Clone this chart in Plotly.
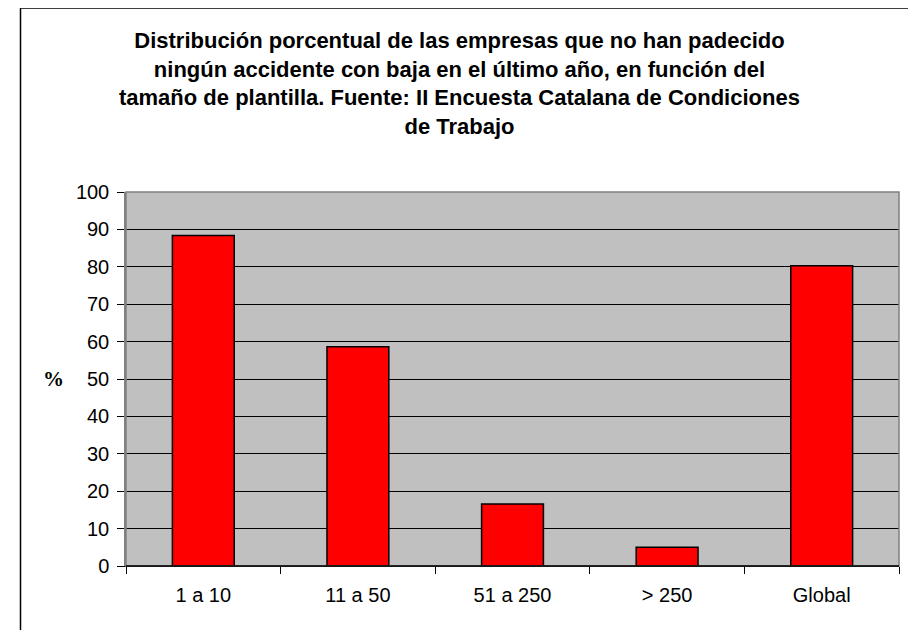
import plotly.graph_objects as go

categories = ["1 a 10", "11 a 50", "51 a 250", "> 250", "Global"]
values = [88.4, 58.6, 16.6, 5.0, 80.3]
y_ticks = [0, 10, 20, 30, 40, 50, 60, 70, 80, 90, 100]
title_lines = [
    "Distribución porcentual de las empresas que no han padecido",
    "ningún accidente con baja en el último año, en función del",
    "tamaño de plantilla. Fuente: II Encuesta Catalana de Condiciones",
    "de Trabajo",
]
y_label = "%"

# page body adds an 8px offset; figure coordinates = screen - 8
OFF = 8
W, H = 916 - OFF, 630 - OFF
ML, MT = 126 - OFF, 192 - OFF
MR = W - (899 - OFF)
MB = H - (566 - OFF)
pw, ph = W - ML - MR, H - MT - MB


def px_x(sx):
    return (sx - OFF - ML) / pw


def px_y(sy):
    return (H - MB - (sy - OFF)) / ph


FONT = "Arial, 'Liberation Sans', sans-serif"

fig = go.Figure(
    go.Bar(
        x=categories,
        y=values,
        marker=dict(color="#ff0000", line=dict(color="#000000", width=1.5)),
        width=0.4,
    )
)

fig.update_layout(
    width=W,
    height=H,
    margin=dict(l=ML, r=MR, t=MT, b=MB),
    paper_bgcolor="white",
    plot_bgcolor="#c0c0c0",
    showlegend=False,
    font=dict(family=FONT, color="black", size=20),
    xaxis=dict(
        type="category",
        showgrid=False,
        ticks="outside",
        tickson="boundaries",
        ticklen=7,
        tickcolor="black",
        showline=True,
        linecolor="black",
        linewidth=1,
        tickfont=dict(size=20),
        ticklabelstandoff=11,
    ),
    yaxis=dict(
        range=[0, 100],
        tickvals=y_ticks,
        showgrid=True,
        gridcolor="#000000",
        gridwidth=1,
        zeroline=False,
        ticks="outside",
        ticklen=7,
        tickcolor="black",
        showline=True,
        linecolor="#808080",
        linewidth=1.5,
        tickfont=dict(size=20),
        ticklabelstandoff=4,
    ),
    shapes=[
        dict(
            type="rect", xref="paper", yref="paper",
            x0=0, x1=1, y0=0, y1=1,
            line=dict(color="#808080", width=1.5),
            layer="above",
        ),
        dict(
            type="line", xref="paper", yref="paper",
            x0=0, x1=1, y0=0, y1=0,
            line=dict(color="#000000", width=1.5),
            layer="above",
        ),
        dict(
            type="rect", xref="paper", yref="paper",
            x0=px_x(20.5), x1=px_x(913), y0=px_y(8), y1=px_y(660),
            line=dict(color="#000000", width=1.5),
            layer="above",
        ),
    ],
    annotations=[
        dict(
            text="<br>".join(title_lines),
            xref="paper", yref="paper",
            x=px_x(459), y=px_y(84),
            xanchor="center", yanchor="middle",
            align="center",
            showarrow=False,
            font=dict(family=FONT, size=22, color="black", weight="bold"),
        ),
        dict(
            text=y_label,
            xref="paper", yref="paper",
            x=px_x(53), y=px_y(379),
            xanchor="center", yanchor="middle",
            showarrow=False,
            font=dict(family="'Liberation Serif', 'Times New Roman', serif", size=21, color="black", weight="bold"),
        ),
    ],
)

fig.write_html("out.html")
